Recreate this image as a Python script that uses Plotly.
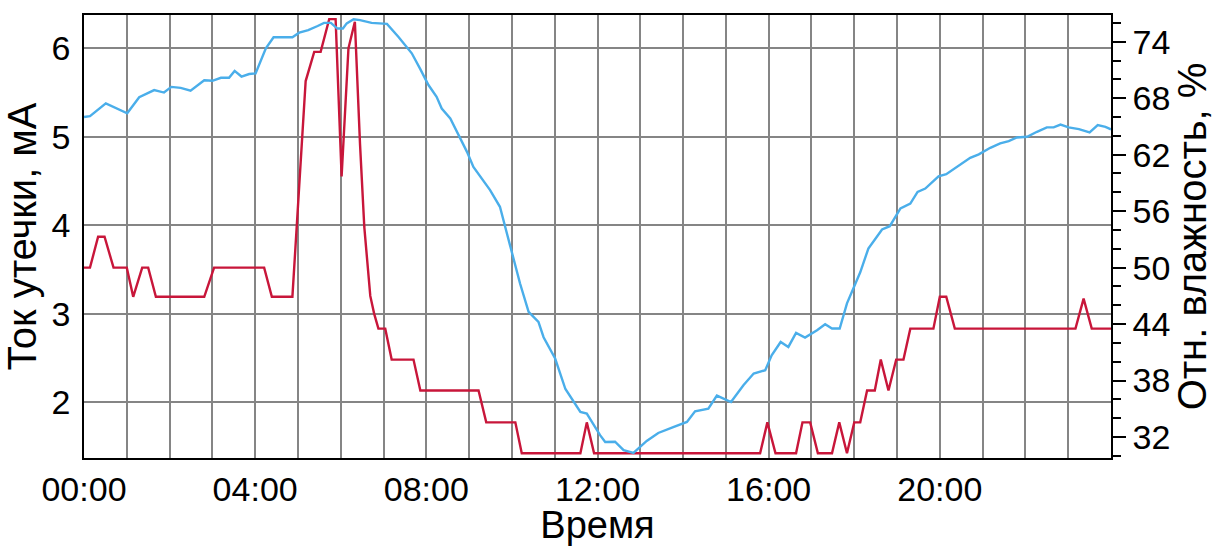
import plotly.graph_objects as go

# Time in hours since 00:00
red_t = [0, 0.14, 0.33, 0.48, 0.69, 1.0, 1.15, 1.36, 1.5, 1.68, 2.81, 3.04, 4.21, 4.39, 4.87,
         5.03, 5.18, 5.38, 5.53, 5.73, 5.88, 6.02, 6.18, 6.33, 6.45, 6.55, 6.69, 6.78, 6.88,
         7.04, 7.19, 7.70, 7.86, 9.22, 9.40, 10.08, 10.23, 11.6, 11.75, 11.92, 15.8, 15.97,
         16.16, 16.64, 16.79, 16.97, 17.15, 17.48, 17.65, 17.83, 18.0, 18.14, 18.30, 18.48,
         18.62, 18.8, 18.98, 19.15, 19.31, 19.85, 20.0, 20.15, 20.35, 23.17, 23.36, 23.55, 24.0]
# Leakage current, mA
red_v = [3.52, 3.52, 3.87, 3.87, 3.52, 3.52, 3.19, 3.52, 3.52, 3.19, 3.19, 3.52, 3.52, 3.19, 3.19,
         4.45, 5.63, 5.96, 5.96, 6.33, 6.33, 4.55, 6.0, 6.30, 4.92, 3.98, 3.2, 3.0, 2.83,
         2.83, 2.48, 2.48, 2.13, 2.13, 1.77, 1.77, 1.42, 1.42, 1.77, 1.42, 1.42, 1.77,
         1.42, 1.42, 1.77, 1.77, 1.42, 1.42, 1.77, 1.42, 1.77, 1.77, 2.13, 2.13,
         2.48, 2.13, 2.48, 2.48, 2.83, 2.83, 3.19, 3.19, 2.83, 2.83, 3.17, 2.83, 2.83]

blue_t = [0, 0.14, 0.51, 1.01, 1.29, 1.44, 1.64, 1.87, 2.04, 2.26, 2.49, 2.81, 3.0, 3.2, 3.39,
          3.52, 3.68, 3.86, 4.01, 4.25, 4.43, 4.68, 4.87, 5.03, 5.24, 5.46, 5.61, 5.77, 5.92,
          6.05, 6.14, 6.3, 6.45, 6.72, 7.08, 7.35, 7.66, 7.85, 8.05, 8.24, 8.36, 8.56, 8.75,
          8.95, 9.1, 9.26, 9.49, 9.72, 9.84, 10.0, 10.19, 10.39, 10.62, 10.74, 11.01, 11.25,
          11.6, 11.75, 12.06, 12.18, 12.41, 12.61, 12.84, 13.15, 13.42, 13.77, 14.09, 14.28,
          14.59, 14.79, 15.12, 15.41, 15.65, 15.92, 16.07, 16.28, 16.46, 16.64, 16.85, 17.13,
          17.32, 17.48, 17.66, 17.83, 18.14, 18.33, 18.49, 18.65, 18.83, 19.08, 19.31, 19.48,
          19.66, 19.97, 20.15, 20.48, 20.71, 20.91, 21.18, 21.41, 21.61, 21.8, 22.04, 22.27,
          22.5, 22.66, 22.82, 23.01, 23.25, 23.5, 23.69, 23.87, 24.0]
# Relative humidity, %
blue_v = [66.0, 66.1, 67.45, 66.4, 68.1, 68.44, 68.86, 68.6, 69.2, 69.1, 68.8, 69.9, 69.85, 70.17, 70.17,
          70.9, 70.3, 70.57, 70.64, 73.3, 74.47, 74.47, 74.47, 74.96, 75.24, 75.67, 76.0, 76.0, 75.4,
          75.4, 75.95, 76.38, 76.3, 76.0, 75.9, 74.5, 72.77, 71.17, 69.4, 68.15, 66.9, 65.86, 64.1,
          62.3, 60.7, 59.65, 58.23, 56.46, 54.33, 51.5, 48.31, 45.3, 44.23, 42.6, 40.34, 37.1,
          34.66, 34.49, 32.2, 31.47, 31.5, 30.6, 30.3, 31.58, 32.43, 33.06, 33.6, 34.73,
          35.02, 36.4, 35.72, 37.5, 38.74, 39.1, 40.68, 42.1, 41.57, 43.06, 42.57, 43.35,
          43.98, 43.53, 43.53, 46.2, 49.5, 52.03, 53.1, 54.05, 54.4, 56.29, 56.8, 58.05,
          58.4, 59.7, 59.93, 60.96, 61.67, 62.03, 62.73, 63.2, 63.44, 63.83, 63.9, 64.43,
          64.9, 64.9, 65.2, 64.9, 64.72, 64.37, 65.14, 64.96, 64.68]

x_tickvals = [0, 4, 8, 12, 16, 20]
x_ticktext = ["00:00", "04:00", "08:00", "12:00", "16:00", "20:00"]
y_tickvals = [2, 3, 4, 5, 6]
y2_tickvals = [32, 38, 44, 50, 56, 62, 68, 74]

FONT = "Liberation Sans, Arial, sans-serif"
GRID = "#858585"

fig = go.Figure()
fig.add_trace(go.Scatter(x=blue_t, y=blue_v, mode="lines", yaxis="y2",
                         line=dict(color="#4aaeea", width=2.4), showlegend=False))
fig.add_trace(go.Scatter(x=red_t, y=red_v, mode="lines", yaxis="y",
                         line=dict(color="#c8163a", width=2.4), showlegend=False))

fig.update_layout(
    width=1214, height=546,
    margin=dict(l=84, r=103, t=15, b=88),
    paper_bgcolor="white", plot_bgcolor="white",
    font=dict(family=FONT, color="black", size=34),
    xaxis=dict(range=[0, 24], tickvals=x_tickvals, ticktext=x_ticktext,
               showgrid=True, gridcolor=GRID, gridwidth=1.5,
               minor=dict(dtick=1, tick0=0, showgrid=True, gridcolor=GRID, gridwidth=1.5),
               showline=True, linecolor="black", linewidth=1.5, mirror=True,
               ticks="", zeroline=False, automargin=False,
               tickfont=dict(size=34),
               title=dict(text="Время", font=dict(size=38), standoff=5)),
    yaxis=dict(range=[1.367, 6.377], tickvals=y_tickvals,
               showgrid=True, gridcolor=GRID, gridwidth=1.5,
               showline=True, linecolor="black", linewidth=1.5, mirror=True,
               ticks="", zeroline=False, ticklabelstandoff=5, automargin=False,
               tickfont=dict(size=34),
               title=dict(text="Ток утечки, мА", font=dict(size=40), standoff=8)),
    yaxis2=dict(range=[29.77, 76.84], overlaying="y", side="right",
                tickvals=y2_tickvals, showgrid=False, zeroline=False,
                showline=True, linecolor="black", linewidth=1.5, automargin=False,
                ticks="outside", ticklen=13, tickwidth=1.5, tickcolor="black",
                minor=dict(dtick=2, tick0=0, ticks="outside", ticklen=8,
                           tickwidth=1.5, tickcolor="black", showgrid=False),
                tickfont=dict(size=34),
                title=dict(text="Отн. влажность, %", font=dict(size=40), standoff=8)),
)

fig.write_html("out.html",
               config={"displayModeBar": False},
               post_script="document.body.style.margin='0px';document.body.style.overflow='hidden';")
